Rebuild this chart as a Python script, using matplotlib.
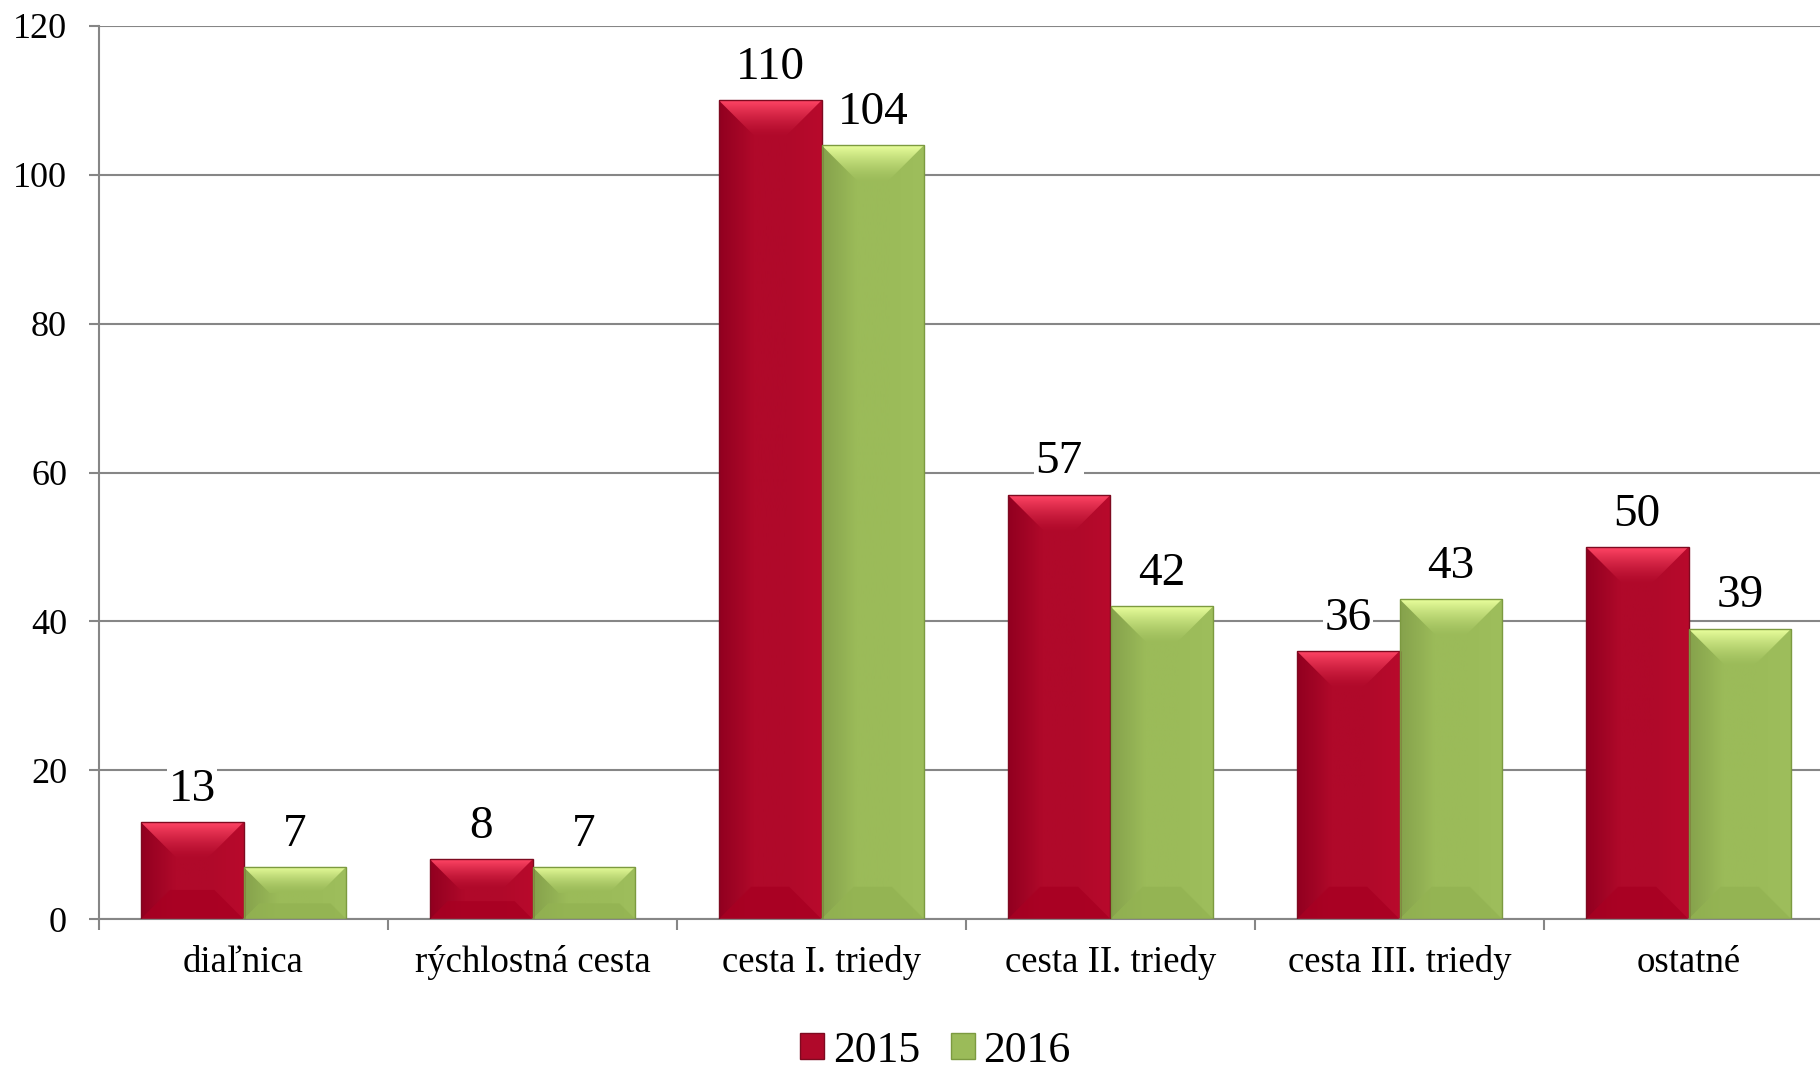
import matplotlib.pyplot as plt
import numpy as np
from matplotlib.colors import LinearSegmentedColormap
from matplotlib.patches import Polygon, Rectangle

categories = ['diaľnica', 'rýchlostná cesta', 'cesta I. triedy',
              'cesta II. triedy', 'cesta III. triedy', 'ostatné']
years = ['2015', '2016']
values_2015 = [13, 8, 110, 57, 36, 50]
values_2016 = [7, 7, 104, 42, 43, 39]

plt.rcParams['font.family'] = ['Liberation Serif', 'DejaVu Serif']

# colour sets: body dark edge, body main, body right, top light, bottom, outline
red = dict(dark='#920020', main='#B0092A', right='#B80A2C',
           top='#FF4565', bottom='#A80022', edge='#7E0A20')
green = dict(dark='#86A24C', main='#9BBB59', right='#9EBE5C',
             top='#E9FF9C', bottom='#93B352', edge='#7C9A40')

fig = plt.figure(figsize=(18.2, 10.7), dpi=100)
# the plot area runs a little past the right edge of the picture
ax = fig.add_axes([99 / 1820, 1 - 919 / 1070, 1734 / 1820, (919 - 26) / 1070])

ax.set_xlim(-0.5, len(categories) - 0.5)
ax.set_ylim(0, 120)

# pixel scale, used for the bevel depth
W, H = fig.get_size_inches() * fig.dpi
pos = ax.get_position()
pxx = W * pos.width / (len(categories))
pxy = H * pos.height / 120.0

bar_w = 0.355
x = np.arange(len(categories))


def bevel_bar(xc, h, c):
    x0, x1 = xc - bar_w / 2, xc + bar_w / 2
    rect = Rectangle((x0, 0), bar_w, h, transform=ax.transData)
    # body with horizontal gradient
    cmap = LinearSegmentedColormap.from_list('b', [c['dark'], c['main'], c['main'], c['right']])
    im = ax.imshow(np.linspace(0, 1, 64).reshape(1, -1), extent=[x0, x1, 0, h],
                   aspect='auto', cmap=cmap, origin='lower', zorder=2)
    im.set_clip_path(rect)
    d = 38.0
    dt = min(d, h * pxy * 0.5, bar_w * pxx * 0.5)
    db = min(d * 0.85, h * pxy * 0.3)
    dxt, dyt = dt / pxx, dt / pxy
    dxb, dyb = db / pxx, db / pxy
    # top bevel, light at the top edge
    top = Polygon([(x0, h), (x1, h), (x1 - dxt, h - dyt), (x0 + dxt, h - dyt)],
                  closed=True, transform=ax.transData)
    cmap_t = LinearSegmentedColormap.from_list('t', [c['main'], c['top']])
    imt = ax.imshow(np.linspace(0, 1, 64).reshape(-1, 1) ** 1.5,
                    extent=[x0, x1, h - dyt, h], aspect='auto', cmap=cmap_t,
                    origin='lower', zorder=3)
    imt.set_clip_path(top)
    # bottom bevel
    ax.add_patch(Polygon([(x0, 0), (x1, 0), (x1 - dxb, dyb), (x0 + dxb, dyb)],
                         closed=True, facecolor=c['bottom'], edgecolor='none',
                         alpha=0.8, zorder=3))
    # outline
    ax.add_patch(Rectangle((x0, 0), bar_w, h, facecolor='none',
                           edgecolor=c['edge'], lw=1.0, zorder=4))


for xi, v in zip(x, values_2015):
    bevel_bar(xi - bar_w / 2, v, red)
for xi, v in zip(x, values_2016):
    bevel_bar(xi + bar_w / 2, v, green)

# value labels
for xi, v in zip(x, values_2015):
    ax.annotate(str(v), (xi - bar_w / 2, v), xytext=(0, 23.5), textcoords='offset points',
                ha='center', va='center', fontsize=34, zorder=6,
                bbox=dict(facecolor='white', edgecolor='none', pad=1))
for xi, v in zip(x, values_2016):
    ax.annotate(str(v), (xi + bar_w / 2, v), xytext=(0, 23.5), textcoords='offset points',
                ha='center', va='center', fontsize=34, zorder=6,
                bbox=dict(facecolor='white', edgecolor='none', pad=1))

# grid and axes
ax.set_yticks(np.arange(0, 121, 20))
ax.yaxis.grid(True, color='#868686', lw=1.5)
ax.set_axisbelow(True)
for s in ['top', 'right']:
    ax.spines[s].set_visible(False)
for s in ['left', 'bottom']:
    ax.spines[s].set_color('#868686')
    ax.spines[s].set_linewidth(1.5)
ax.tick_params(axis='y', labelsize=26, length=7, width=1.5, color='#868686', pad=16)

ax.set_xticks(x)
ax.set_xticklabels(categories, fontsize=26.5)
ax.set_xticks(np.arange(-0.5, len(categories), 1.0), minor=True)
ax.tick_params(axis='x', which='major', length=0, pad=19)
ax.tick_params(axis='x', which='minor', length=8, width=1.5, color='#868686')

# legend
handles = [Rectangle((0, 0), 1, 1, facecolor=red['main'], edgecolor=red['edge']),
           Rectangle((0, 0), 1, 1, facecolor=green['main'], edgecolor=green['edge'])]
fig.legend(handles, years, loc='center', bbox_to_anchor=(0.514, 0.018), ncol=2,
           frameon=False, fontsize=31.5, handlelength=0.55, handleheight=0.55,
           handletextpad=0.2, columnspacing=0.7)

fig.savefig('out.png', dpi=100)
